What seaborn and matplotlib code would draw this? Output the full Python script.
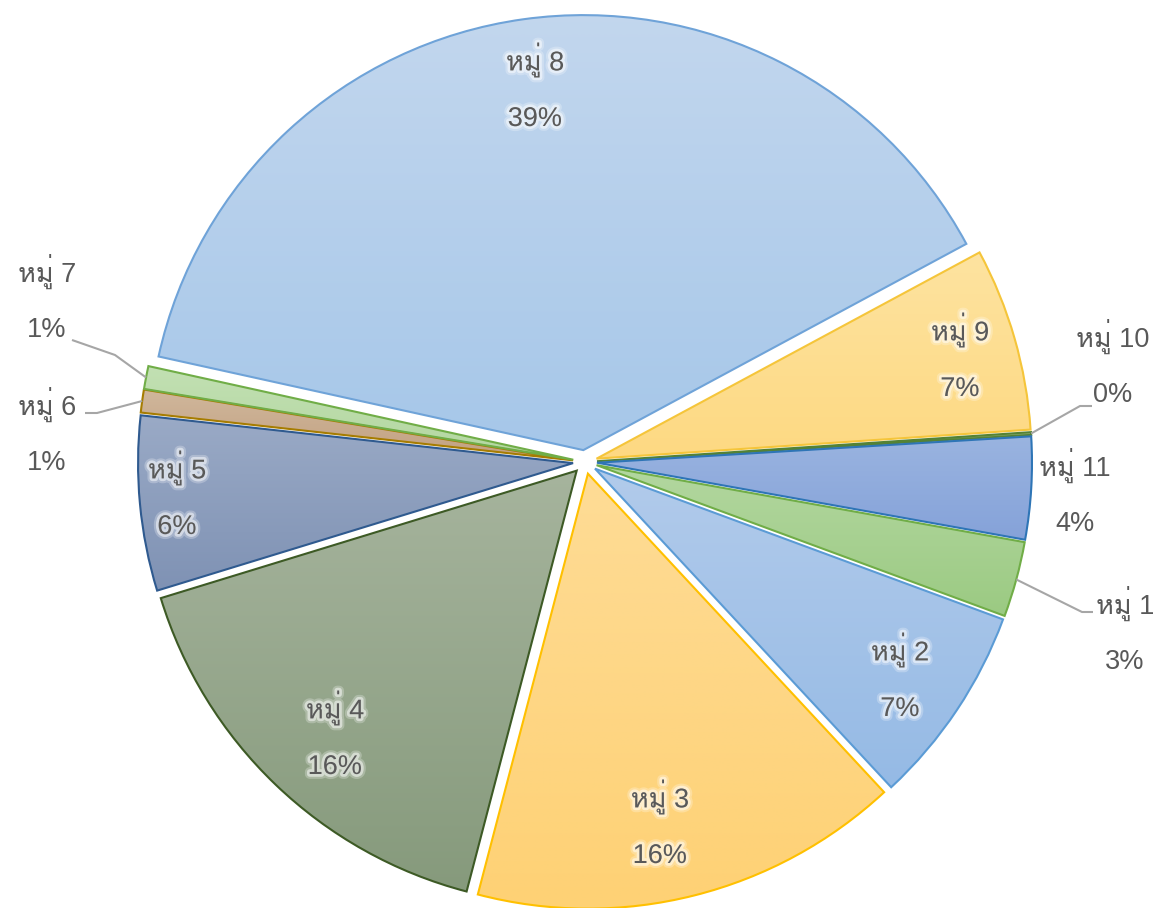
import numpy as np
import matplotlib
matplotlib.use("Agg")
import matplotlib.pyplot as plt
import matplotlib.patheffects as pe
from matplotlib.colors import LinearSegmentedColormap
import seaborn as sns

# ข้อมูล (สัดส่วนร้อยละของแต่ละหมู่)
groups = ["หมู่ 1", "หมู่ 2", "หมู่ 3", "หมู่ 4", "หมู่ 5", "หมู่ 6",
          "หมู่ 7", "หมู่ 8", "หมู่ 9", "หมู่ 10", "หมู่ 11"]
shares = [2.8, 7.45, 16.0, 16.2, 6.49, 0.85, 0.85, 38.7, 6.8, 0.1, 3.8]

# ไล่สีบน -> ล่าง
tops = ["#b3d7a0", "#b2cbeb", "#fedc96", "#a6b49d", "#9aaac6", "#d0b79c",
        "#c2e0b3", "#c3d7ee", "#fee3a0", "#8fae70", "#9ab4e0"]
bottoms = ["#9bca82", "#95bae5", "#fed174", "#869a7c", "#7f92b4", "#c2a181",
           "#b3d7a0", "#a6c7e9", "#fdd982", "#8fae70", "#85a2d9"]
edges = ["#70ad47", "#5b9bd5", "#ffc000", "#3d5a25", "#2f5a8f", "#a67c00",
         "#70ad47", "#6fa3d8", "#f5c53a", "#548235", "#2e75b6"]

sns.set_theme(style="white")
# ตัวเลขใช้ Liberation Sans, อักษรไทยตกไปที่ Loma
plt.rcParams["font.family"] = ["Liberation Sans", "Loma", "DejaVu Sans"]

W, H = 1156, 908
fig = plt.figure(figsize=(W / 100, H / 100), dpi=100)
ax = fig.add_axes([0, 0, 1, 1])

R = 435
wedges, _ = ax.pie(shares, center=(585, H - 462), radius=R,
                   explode=[12] * len(shares), startangle=-10.2,
                   counterclock=False, colors=bottoms, frame=True,
                   wedgeprops=dict(linewidth=1.5))
ax.set_xlim(0, W)
ax.set_ylim(0, H)
ax.set_aspect("equal")
ax.axis("off")

# เติมไล่สีในแต่ละชิ้น
grad = np.linspace(0, 1, 256).reshape(-1, 1)
for w, t, b, ec in zip(wedges, tops, bottoms, edges):
    w.set_edgecolor(ec)
    w.set_zorder(3)
    w.set_facecolor("none")
    verts = w.get_transform().transform(w.get_path().vertices)
    verts = ax.transData.inverted().transform(verts)
    x0, y0 = verts.min(axis=0)
    x1, y1 = verts.max(axis=0)
    cm = LinearSegmentedColormap.from_list("g", [t, b])
    im = ax.imshow(grad, cmap=cm, extent=(x0, x1, y0, y1), origin="upper",
                   aspect="auto", zorder=2, interpolation="bilinear")
    im.set_clip_path(w)
ax.set_xlim(0, W)
ax.set_ylim(0, H)

txt_color = "#595959"
fs = 19.5
glow = [pe.Stroke(linewidth=7, foreground="white", alpha=0.25),
        pe.Stroke(linewidth=4, foreground="white", alpha=0.5),
        pe.Normal()]

# ตำแหน่งป้าย (พิกเซลจากมุมบนซ้าย: x, y ของชื่อหมู่; ร้อยละอยู่ต่ำลง 59 px)
label_pos = {7: (535, 60), 8: (960, 330), 1: (900, 650), 2: (660, 797),
             3: (335, 708), 4: (177, 468),
             6: (47, 271), 5: (47, 404), 9: (1113, 336), 10: (1075, 465),
             0: (1125, 603)}
inside = {1, 2, 3, 4, 7, 8}
# เส้นชี้สำหรับชิ้นเล็ก (จุดหักมุม, ปลายเส้น)
leaders = {6: [(115, 355), (72, 340)],
           5: [(97, 413), (85, 413)],
           9: [(1080, 406), (1092, 406)],
           0: [(1082, 612), (1093, 612)]}

for i, (px, py) in label_pos.items():
    pct = f"{round(shares[i] / sum(shares) * 100)}%"
    kw = dict(ha="center", va="center", fontsize=fs, color=txt_color,
              zorder=5)
    if i in inside:
        kw["path_effects"] = glow
    ax.text(px, H - py, groups[i], **kw)
    ax.text(px, H - py - 59, pct, **kw)

for i, line in leaders.items():
    w = wedges[i]
    th = np.deg2rad((w.theta1 + w.theta2) / 2)
    cx, cy = w.center
    xs = [cx + R * np.cos(th)] + [p[0] for p in line]
    ys = [cy + R * np.sin(th)] + [H - p[1] for p in line]
    ax.plot(xs, ys, color="#a6a6a6", lw=1.5, solid_capstyle="butt",
            zorder=4)

fig.savefig("out.png", dpi=100)
